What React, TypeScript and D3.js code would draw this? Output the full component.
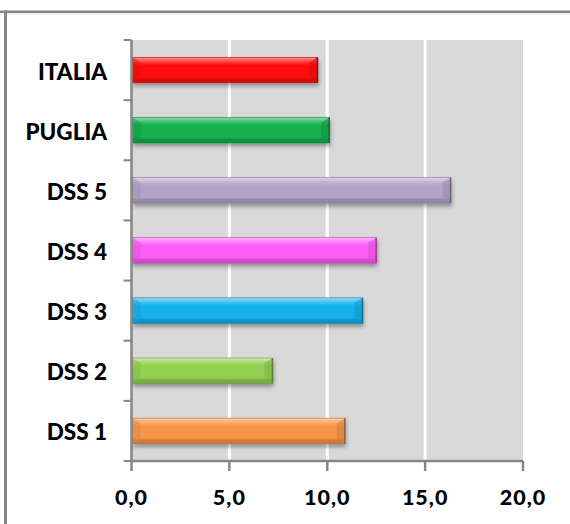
import React, { useEffect, useRef } from 'react'
import * as d3 from 'd3'

// data (top to bottom as drawn)
const categories = ['ITALIA', 'PUGLIA', 'DSS 5', 'DSS 4', 'DSS 3', 'DSS 2', 'DSS 1']
const values = [9.5, 10.1, 16.3, 12.5, 11.8, 7.2, 10.9]
const barColors = ['#ff1010', '#12b050', '#b4a3c9', '#ff5cf5', '#14b2ee', '#92d050', '#f79646']
const xTicks = [0, 5, 10, 15, 20]

const W = 570
const H = 524
const margin = { top: 40, right: 47, bottom: 63, left: 131.5 }

export default function App() {
    const ref = useRef<SVGSVGElement>(null)

    useEffect(() => {
        const svg = d3.select(ref.current)
        svg.selectAll('*').remove()

        const width = W - margin.left - margin.right
        const height = H - margin.top - margin.bottom
        const fontFamily = 'Lato, "Open Sans", sans-serif'

        const x = d3.scaleLinear().domain([0, 20]).range([0, width])
        const y = d3.scaleBand().domain(categories).range([0, height]).paddingInner(0.575).paddingOuter(0.2875)
        const band = d3.scaleBand().domain(categories).range([0, height])
        const fmt = d3.formatLocale({ decimal: ',', thousands: '.', grouping: [3], currency: ['€', ''] }).format('.1f')

        const defs = svg.append('defs')
        defs.append('filter')
            .attr('id', 'shadow')
            .attr('x', '-5%').attr('y', '-30%').attr('width', '115%').attr('height', '180%')
            .append('feDropShadow')
            .attr('dx', 1).attr('dy', 3).attr('stdDeviation', 2)
            .attr('flood-color', '#000').attr('flood-opacity', 0.35)

        barColors.forEach((c, i) => {
            const base = d3.color(c)!
            const g = defs.append('linearGradient')
                .attr('id', 'grad' + i)
                .attr('x1', 0).attr('y1', 0).attr('x2', 0).attr('y2', 1)
            const stops: [number, string][] = [
                [0, d3.interpolateRgb(c, '#fff')(0.55)],
                [0.12, d3.interpolateRgb(c, '#fff')(0.3)],
                [0.3, base.formatHex()],
                [0.78, base.formatHex()],
                [0.86, base.darker(0.5).formatHex()],
                [1, base.darker(0.6).formatHex()],
            ]
            stops.forEach(s => g.append('stop').attr('offset', s[0]).attr('stop-color', s[1]))
        })

        // outer frame lines
        svg.append('rect').attr('x', 0).attr('y', 13).attr('width', W).attr('height', 2).attr('fill', '#f2f2f2')
        svg.append('rect').attr('x', 0).attr('y', 10.5).attr('width', W).attr('height', 2.5).attr('fill', '#868686')
        svg.append('rect').attr('x', 4).attr('y', 10.5).attr('width', 3).attr('height', H).attr('fill', '#868686')

        const plot = svg.append('g').attr('transform', `translate(${margin.left},${margin.top})`)

        plot.append('rect')
            .attr('width', width)
            .attr('height', height)
            .attr('fill', '#d9d9d9')

        // gridlines
        plot.append('g')
            .selectAll('line')
            .data(xTicks.filter(t => t > 0 && t < 20))
            .enter()
            .append('line')
            .attr('x1', d => x(d)).attr('x2', d => x(d))
            .attr('y1', 0).attr('y2', height)
            .attr('stroke', '#fff').attr('stroke-width', 3)

        // bars
        const bars = plot.append('g')
            .selectAll('g')
            .data(categories)
            .enter()
            .append('g')

        bars.append('rect')
            .attr('x', 1)
            .attr('y', d => y(d)!)
            .attr('width', (d, i) => x(values[i]) - 1)
            .attr('height', y.bandwidth())
            .attr('fill', (d, i) => `url(#grad${i})`)
            .attr('stroke', (d, i) => d3.color(barColors[i])!.darker(0.8).formatHex())
            .attr('stroke-width', 0.6)
            .attr('filter', 'url(#shadow)')

        // bevel ends
        bars.append('path')
            .attr('d', (d, i) => {
                const x1 = x(values[i])
                const y0 = y(d)!
                const h = y.bandwidth()
                return `M${x1},${y0} L${x1 - 8},${y0 + 5} L${x1 - 8},${y0 + h - 4} L${x1},${y0 + h} Z`
            })
            .attr('fill', (d, i) => d3.color(barColors[i])!.darker(0.5).formatHex())
            .attr('opacity', 0.55)
        bars.append('path')
            .attr('d', (d, i) => {
                const y0 = y(d)!
                const h = y.bandwidth()
                return `M1,${y0} L9,${y0 + 5} L9,${y0 + h - 4} L1,${y0 + h} Z`
            })
            .attr('fill', (d, i) => d3.interpolateRgb(barColors[i], '#000')(0.12))
            .attr('opacity', 0.45)
        bars.append('line')
            .attr('x1', (d, i) => x(values[i]))
            .attr('x2', (d, i) => x(values[i]))
            .attr('y1', d => y(d)!)
            .attr('y2', d => y(d)! + y.bandwidth())
            .attr('stroke', (d, i) => d3.color(barColors[i])!.darker(1.3).formatHex())
            .attr('stroke-width', 1.5)

        // y axis
        const yAxis = plot.append('g')
        yAxis.append('line')
            .attr('x1', 0).attr('x2', 0).attr('y1', 0).attr('y2', height)
            .attr('stroke', '#868686').attr('stroke-width', 2.5)
        yAxis.selectAll('.tick')
            .data([...categories.map(c => band(c)!), height])
            .enter()
            .append('line')
            .attr('x1', -8).attr('x2', 0)
            .attr('y1', d => d).attr('y2', d => d)
            .attr('stroke', '#868686').attr('stroke-width', 2)
        yAxis.selectAll('text')
            .data(categories)
            .enter()
            .append('text')
            .attr('x', -24.5)
            .attr('y', d => band(d)! + band.bandwidth() / 2 + 9.5)
            .attr('text-anchor', 'end')
            .attr('font-family', fontFamily)
            .attr('font-weight', 900)
            .attr('font-size', 22.5)
            .attr('fill', '#000')
            .text(d => d)

        // x axis
        const xAxis = plot.append('g').attr('transform', `translate(0,${height})`)
        xAxis.append('line')
            .attr('x1', 0).attr('x2', width)
            .attr('stroke', '#868686').attr('stroke-width', 2.5)
        xAxis.selectAll('.tick')
            .data(xTicks)
            .enter()
            .append('line')
            .attr('x1', d => x(d)).attr('x2', d => x(d))
            .attr('y1', 0).attr('y2', 10)
            .attr('stroke', '#868686').attr('stroke-width', 2.5)
        xAxis.selectAll('text')
            .data(xTicks)
            .enter()
            .append('text')
            .attr('x', d => x(d))
            .attr('y', 44)
            .attr('text-anchor', 'middle')
            .attr('font-family', fontFamily)
            .attr('font-weight', 900)
            .attr('font-size', 21.5)
            .attr('letter-spacing', 1)
            .attr('fill', '#000')
            .text(d => fmt(d))
    }, [])

    return (
        <svg
            ref={ref}
            width={W}
            height={H}
            style={{ position: 'absolute', left: 0, top: 0, background: '#fff' }}
        />
    )
}
